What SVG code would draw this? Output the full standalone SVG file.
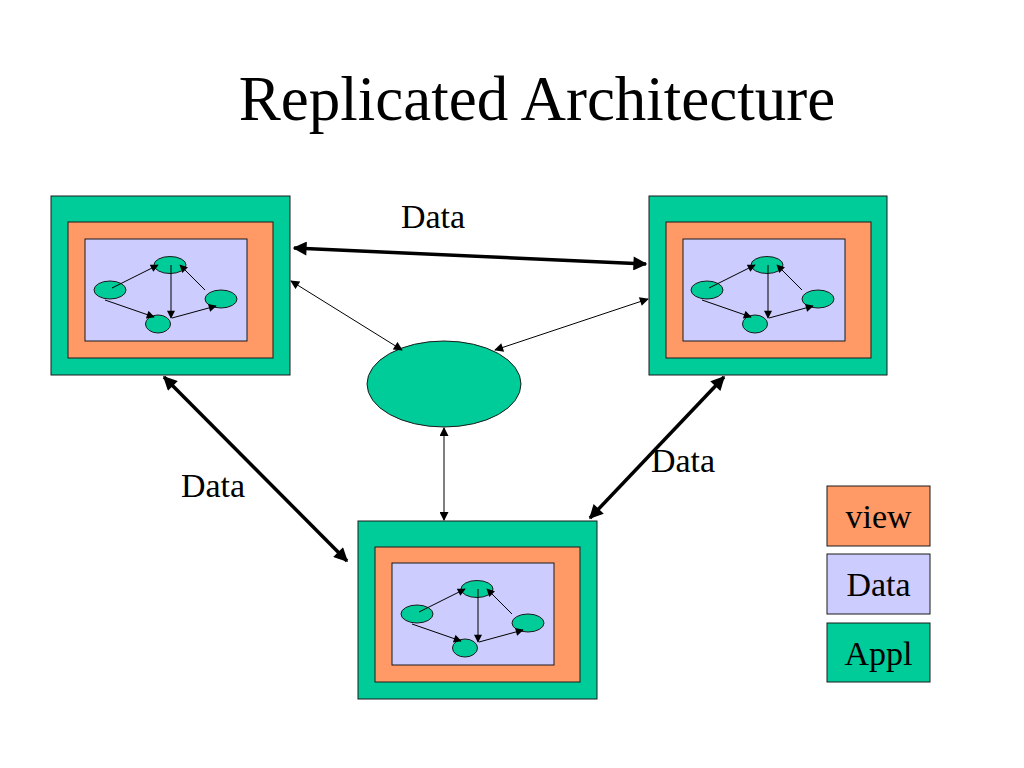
<svg xmlns="http://www.w3.org/2000/svg" width="1024" height="768" viewBox="0 0 1024 768">
<defs>
<style>
.appl{fill:#00CC99;stroke:#1a1a1a;stroke-width:1}
.view{fill:#FF9966;stroke:#1a1a1a;stroke-width:1}
.data{fill:#CCCCFF;stroke:#1a1a1a;stroke-width:1}
.n{fill:#00CC99;stroke:#1a1a1a;stroke-width:1}
.t{font-family:"Liberation Serif","Times New Roman",serif;fill:#000}
.thick{stroke:#000;stroke-width:3.5;fill:none;marker-start:url(#bigA);marker-end:url(#bigA)}
.thin{stroke:#000;stroke-width:1;fill:none;marker-start:url(#smA);marker-end:url(#smA)}
.ia{stroke:#000;stroke-width:1;fill:none;marker-end:url(#inA)}
</style>
<marker id="bigA" viewBox="0 0 10 10" refX="9" refY="5" markerWidth="5" markerHeight="4" orient="auto-start-reverse" markerUnits="strokeWidth"><path d="M0,0 L10,5 L0,10 z" fill="#000"/></marker>
<marker id="smA" viewBox="0 0 10 10" refX="9" refY="5" markerWidth="11" markerHeight="9" orient="auto-start-reverse" markerUnits="userSpaceOnUse"><path d="M0,0 L10,5 L0,10 z" fill="#000"/></marker>
<marker id="inA" viewBox="0 0 10 10" refX="9" refY="5" markerWidth="10" markerHeight="8" orient="auto" markerUnits="userSpaceOnUse"><path d="M0,0 L10,5 L0,10 z" fill="#000"/></marker>
<g id="mini">
<ellipse class="n" cx="170" cy="265" rx="16" ry="8.5"/>
<ellipse class="n" cx="110" cy="290" rx="16" ry="9"/>
<ellipse class="n" cx="221" cy="299" rx="16" ry="9"/>
<ellipse class="n" cx="158" cy="324" rx="12.5" ry="9"/>
<line class="ia" x1="112" y1="288" x2="158" y2="265"/>
<line class="ia" x1="105" y1="300" x2="154" y2="317"/>
<line class="ia" x1="171" y1="265" x2="171" y2="318"/>
<line class="ia" x1="172" y1="318" x2="216" y2="306"/>
<line class="ia" x1="205" y1="290" x2="180" y2="265"/>
</g>
</defs>
<rect width="1024" height="768" fill="#fff"/>
<text class="t" x="537" y="120" font-size="63" text-anchor="middle">Replicated Architecture</text>

<g id="node-left">
<rect class="appl" x="51" y="196" width="239" height="179"/>
<rect class="view" x="68" y="222" width="205" height="136"/>
<rect class="data" x="85" y="239" width="162" height="102"/>
<use href="#mini"/>
</g>
<g id="node-right">
<rect class="appl" x="649" y="196" width="238" height="179"/>
<rect class="view" x="666" y="222" width="205" height="136"/>
<rect class="data" x="683" y="239" width="162" height="102"/>
<use href="#mini" transform="translate(597,0)"/>
</g>
<g id="node-bottom">
<rect class="appl" x="358" y="521" width="239" height="178"/>
<rect class="view" x="375" y="547" width="205" height="135"/>
<rect class="data" x="392" y="563" width="162" height="102"/>
<use href="#mini" transform="translate(307,324)"/>
</g>
<g id="node-center">
<ellipse class="n" cx="444" cy="384" rx="77" ry="43"/>
</g>

<g id="connectors">
<line class="thick" x1="294" y1="248" x2="646" y2="264"/>
<line class="thin" x1="291" y1="281" x2="402" y2="350"/>
<line class="thin" x1="648" y1="299" x2="495" y2="350"/>
<line class="thin" x1="444" y1="428" x2="444" y2="520"/>
<line class="thick" x1="164" y1="377" x2="347" y2="561"/>
<line class="thick" x1="724" y1="377" x2="590" y2="518"/>
</g>

<g id="labels">
<text class="t" x="433" y="228" font-size="34" text-anchor="middle">Data</text>
<text class="t" x="213" y="497" font-size="34" text-anchor="middle">Data</text>
<text class="t" x="683" y="472" font-size="34" text-anchor="middle">Data</text>
</g>

<g id="legend-view">
<rect class="view" x="827" y="486" width="103" height="60"/>
<text class="t" x="878.5" y="528" font-size="34" text-anchor="middle">view</text>
</g>
<g id="legend-data">
<rect class="data" x="827" y="554" width="103" height="60"/>
<text class="t" x="878.5" y="596" font-size="34" text-anchor="middle">Data</text>
</g>
<g id="legend-appl">
<rect class="appl" x="827" y="623" width="103" height="59"/>
<text class="t" x="878.5" y="665" font-size="34" text-anchor="middle">Appl</text>
</g>
</svg>
